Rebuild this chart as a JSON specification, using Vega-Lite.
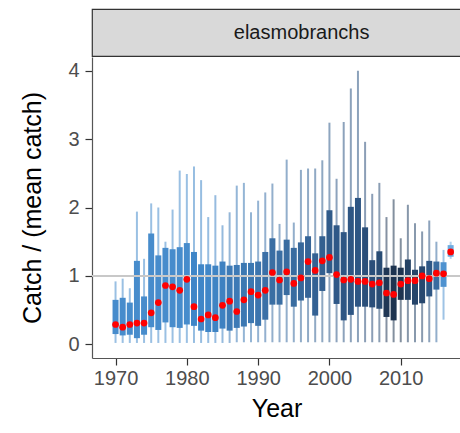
{
  "$schema": "https://vega.github.io/schema/vega-lite/v6.json",
  "padding": {"left": 20, "top": 8, "right": 0, "bottom": 10},
  "spacing": 0,
  "config": {
    "view": {"stroke": null},
    "font": "Liberation Sans",
    "axis": {
      "labelFont": "Liberation Sans", "titleFont": "Liberation Sans",
      "labelFontSize": 20, "labelColor": "#4d4d4d",
      "titleFontSize": 25, "titleColor": "#000000", "titleFontWeight": "normal",
      "tickColor": "#333333", "tickSize": 7, "tickWidth": 1.2,
      "domainColor": "#555555", "domainWidth": 1.2, "grid": false
    }
  },
  "datasets": {
    "catch": [
      {"year": 1970, "lo": 0.02, "q1": 0.15, "q3": 0.65, "hi": 0.92, "val": 0.29, "n": 18},
      {"year": 1971, "lo": 0.02, "q1": 0.13, "q3": 0.68, "hi": 0.96, "val": 0.25, "n": 18},
      {"year": 1972, "lo": 0.02, "q1": 0.14, "q3": 0.61, "hi": 0.82, "val": 0.29, "n": 18},
      {"year": 1973, "lo": 0.02, "q1": 0.09, "q3": 1.22, "hi": 1.94, "val": 0.31, "n": 18},
      {"year": 1974, "lo": 0.02, "q1": 0.14, "q3": 0.70, "hi": 1.25, "val": 0.31, "n": 18},
      {"year": 1975, "lo": 0.02, "q1": 0.25, "q3": 1.62, "hi": 2.06, "val": 0.46, "n": 18},
      {"year": 1976, "lo": 0.02, "q1": 0.21, "q3": 1.30, "hi": 2.00, "val": 0.61, "n": 18},
      {"year": 1977, "lo": 0.02, "q1": 0.32, "q3": 1.41, "hi": 1.50, "val": 0.86, "n": 18},
      {"year": 1978, "lo": 0.02, "q1": 0.25, "q3": 1.39, "hi": 1.97, "val": 0.84, "n": 18},
      {"year": 1979, "lo": 0.02, "q1": 0.24, "q3": 1.42, "hi": 2.54, "val": 0.79, "n": 18},
      {"year": 1980, "lo": 0.02, "q1": 0.29, "q3": 1.48, "hi": 2.49, "val": 0.95, "n": 18},
      {"year": 1981, "lo": 0.02, "q1": 0.27, "q3": 1.35, "hi": 2.60, "val": 0.55, "n": 20},
      {"year": 1982, "lo": 0.02, "q1": 0.20, "q3": 1.17, "hi": 2.40, "val": 0.37, "n": 20},
      {"year": 1983, "lo": 0.02, "q1": 0.18, "q3": 1.17, "hi": 1.86, "val": 0.43, "n": 20},
      {"year": 1984, "lo": 0.02, "q1": 0.18, "q3": 1.15, "hi": 2.18, "val": 0.39, "n": 21},
      {"year": 1985, "lo": 0.02, "q1": 0.23, "q3": 1.21, "hi": 1.74, "val": 0.57, "n": 22},
      {"year": 1986, "lo": 0.02, "q1": 0.20, "q3": 1.15, "hi": 1.93, "val": 0.63, "n": 25},
      {"year": 1987, "lo": 0.03, "q1": 0.24, "q3": 1.16, "hi": 2.32, "val": 0.48, "n": 25},
      {"year": 1988, "lo": 0.03, "q1": 0.26, "q3": 1.19, "hi": 2.36, "val": 0.65, "n": 26},
      {"year": 1989, "lo": 0.03, "q1": 0.31, "q3": 1.19, "hi": 1.93, "val": 0.77, "n": 26},
      {"year": 1990, "lo": 0.03, "q1": 0.27, "q3": 1.21, "hi": 2.10, "val": 0.72, "n": 27},
      {"year": 1991, "lo": 0.03, "q1": 0.36, "q3": 1.35, "hi": 2.22, "val": 0.79, "n": 29},
      {"year": 1992, "lo": 0.03, "q1": 0.58, "q3": 1.55, "hi": 2.35, "val": 1.05, "n": 30},
      {"year": 1993, "lo": 0.03, "q1": 0.58, "q3": 1.37, "hi": 1.76, "val": 0.94, "n": 30},
      {"year": 1994, "lo": 0.03, "q1": 0.72, "q3": 1.53, "hi": 2.70, "val": 1.06, "n": 31},
      {"year": 1995, "lo": 0.03, "q1": 0.55, "q3": 1.41, "hi": 1.78, "val": 0.89, "n": 31},
      {"year": 1996, "lo": 0.03, "q1": 0.64, "q3": 1.49, "hi": 2.55, "val": 0.97, "n": 33},
      {"year": 1997, "lo": 0.03, "q1": 0.68, "q3": 1.58, "hi": 2.57, "val": 1.21, "n": 34},
      {"year": 1998, "lo": 0.03, "q1": 0.42, "q3": 1.33, "hi": 2.57, "val": 1.08, "n": 35},
      {"year": 1999, "lo": 0.03, "q1": 0.78, "q3": 1.58, "hi": 2.69, "val": 1.22, "n": 36},
      {"year": 2000, "lo": 0.03, "q1": 1.04, "q3": 1.96, "hi": 3.24, "val": 1.27, "n": 38},
      {"year": 2001, "lo": 0.03, "q1": 0.59, "q3": 1.74, "hi": 2.42, "val": 1.02, "n": 39},
      {"year": 2002, "lo": 0.03, "q1": 0.35, "q3": 1.64, "hi": 3.25, "val": 0.94, "n": 40},
      {"year": 2003, "lo": 0.03, "q1": 0.43, "q3": 2.01, "hi": 3.74, "val": 0.95, "n": 40},
      {"year": 2004, "lo": 0.03, "q1": 0.55, "q3": 2.14, "hi": 4.00, "val": 0.92, "n": 40},
      {"year": 2005, "lo": 0.03, "q1": 0.55, "q3": 1.71, "hi": 2.96, "val": 0.92, "n": 42},
      {"year": 2006, "lo": 0.03, "q1": 0.54, "q3": 1.23, "hi": 2.20, "val": 0.88, "n": 42},
      {"year": 2007, "lo": 0.03, "q1": 0.52, "q3": 1.36, "hi": 2.36, "val": 0.90, "n": 43},
      {"year": 2008, "lo": 0.03, "q1": 0.40, "q3": 1.12, "hi": 1.86, "val": 0.75, "n": 49},
      {"year": 2009, "lo": 0.03, "q1": 0.35, "q3": 1.15, "hi": 2.12, "val": 0.73, "n": 50},
      {"year": 2010, "lo": 0.03, "q1": 0.65, "q3": 1.12, "hi": 1.55, "val": 0.88, "n": 50},
      {"year": 2011, "lo": 0.03, "q1": 0.65, "q3": 1.24, "hi": 2.04, "val": 0.93, "n": 46},
      {"year": 2012, "lo": 0.03, "q1": 0.58, "q3": 1.09, "hi": 1.77, "val": 0.93, "n": 45},
      {"year": 2013, "lo": 0.03, "q1": 0.60, "q3": 1.14, "hi": 1.65, "val": 1.00, "n": 44},
      {"year": 2014, "lo": 0.03, "q1": 0.70, "q3": 1.22, "hi": 1.81, "val": 0.96, "n": 40},
      {"year": 2015, "lo": 0.03, "q1": 0.80, "q3": 1.21, "hi": 1.50, "val": 1.04, "n": 31},
      {"year": 2016, "lo": 0.36, "q1": 0.84, "q3": 1.20, "hi": 1.38, "val": 1.03, "n": 16},
      {"year": 2017, "lo": 1.25, "q1": 1.28, "q3": 1.45, "hi": 1.50, "val": 1.35, "n": 8}
    ]
  },
  "vconcat": [
    {
      "width": 369,
      "height": 47,
      "view": {"fill": "#d9d9d9", "stroke": "#333333", "strokeWidth": 1.2},
      "data": {"values": [{"label": "elasmobranchs"}]},
      "mark": {"type": "text", "fontSize": 20, "color": "#1a1a1a", "baseline": "middle", "align": "center", "font": "Liberation Sans"},
      "encoding": {
        "text": {"field": "label"},
        "x": {"datum": 1996, "type": "quantitative", "scale": {"domain": [1967.4, 2017.75], "nice": false, "zero": false}, "axis": null}
      }
    },
    {
      "width": 369,
      "height": 301,
      "data": {"name": "catch"},
      "layer": [
        {
          "mark": {"type": "rule", "strokeWidth": 2, "opacity": 0.55},
          "encoding": {
            "x": {"field": "year", "type": "quantitative", "title": "Year",
                  "scale": {"domain": [1967.4, 2017.75], "nice": false, "zero": false},
                  "axis": {"values": [1970, 1980, 1990, 2000, 2010], "format": "d", "labelPadding": 3, "titlePadding": 8}},
            "y": {"field": "lo", "type": "quantitative", "title": "Catch / (mean catch)",
                  "scale": {"domain": [-0.2, 4.2], "nice": false, "zero": false},
                  "axis": {"values": [0, 1, 2, 3, 4], "format": "d", "labelPadding": 6, "titlePadding": 22}},
            "y2": {"field": "hi"},
            "color": {"field": "n", "type": "quantitative", "legend": null,
                      "scale": {"domain": [0, 20, 30, 40, 50], "range": ["#8cc4f0", "#3f86c8", "#3a6ea3", "#2e5684", "#1e3450"], "interpolate": "rgb"}}
          }
        },
        {
          "mark": {"type": "bar", "size": 6},
          "encoding": {
            "x": {"field": "year", "type": "quantitative", "title": "Year"},
            "y": {"field": "q1", "type": "quantitative", "title": "Catch / (mean catch)"},
            "y2": {"field": "q3"},
            "color": {"field": "n", "type": "quantitative", "legend": null}
          }
        },
        {
          "data": {"values": [{"ref": 1}]},
          "mark": {"type": "rule", "color": "#c8c8c8", "strokeWidth": 2},
          "encoding": {
            "y": {"field": "ref", "type": "quantitative", "title": "Catch / (mean catch)"}
          }
        },
        {
          "mark": {"type": "point", "filled": true, "color": "#ff0000", "size": 45, "opacity": 1},
          "encoding": {
            "x": {"field": "year", "type": "quantitative", "title": "Year"},
            "y": {"field": "val", "type": "quantitative", "title": "Catch / (mean catch)"}
          }
        }
      ]
    }
  ]
}
